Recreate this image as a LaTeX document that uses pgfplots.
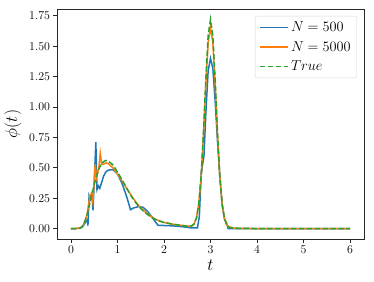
\documentclass[border=0pt]{standalone}
\usepackage{pgfplots}
\pgfplotsset{compat=1.18}
\definecolor{tabblue}{HTML}{1F77B4}
\definecolor{taborange}{HTML}{FF7F0E}
\definecolor{tabgreen}{HTML}{2CA02C}
\begin{document}
\begin{tikzpicture}
\begin{axis}[
  scale only axis, width=307bp, height=230bp,
  xmin=-0.3, xmax=6.3, ymin=-0.086, ymax=1.806,
  xtick={0,1,2,3,4,5,6},
  ytick={0,0.25,0.5,0.75,1,1.25,1.5,1.75},
  yticklabel style={/pgf/number format/.cd, fixed, fixed zerofill, precision=2},
  tick label style={font=\fontsize{13}{15}\selectfont},
  tick align=outside, tick pos=left,
  major tick length=3.5bp,
  axis line style={black!85, line width=0.8bp},
  every tick/.style={black!85, line width=0.8bp},
  xlabel={$t$}, ylabel={$\phi(t)$},
  label style={font=\fontsize{16}{18}\selectfont},
  xlabel style={yshift=1bp},
  ylabel style={yshift=1bp},
  legend style={at={(rel axis cs:0.977,0.97)}, anchor=north east,
    draw=black!15, rounded corners=2bp, font=\fontsize{13.5}{15}\selectfont,
    row sep=4bp, inner xsep=4bp, inner ysep=4bp},
  legend cell align=left,
  legend image code/.code={\draw[#1] (0cm,0cm) -- (1.0cm,0cm);},
  clip=false,
]
\addplot[tabblue, line width=1.5bp] coordinates {
(0,0) (0.1,0) (0.2,0.003) (0.25,0.015) (0.3,0.045) (0.35,0.07) (0.365,0.025) (0.39,0.27) (0.42,0.24) (0.45,0.28) (0.475,0.15) (0.5,0.38) (0.535,0.71) (0.56,0.32) (0.59,0.35) (0.62,0.33) (0.66,0.38) (0.7,0.43) (0.75,0.465) (0.8,0.48) (0.9,0.485) (1.0,0.45) (1.1,0.37) (1.2,0.26) (1.28,0.155) (1.35,0.17) (1.45,0.18) (1.55,0.175) (1.65,0.14) (1.75,0.09) (1.87,0.027) (2.0,0.025) (2.2,0.022) (2.4,0.015) (2.6,0.005) (2.72,0.005) (2.76,0.1) (2.8,0.45) (2.86,0.6) (2.9,0.95) (2.95,1.3) (3.0,1.40) (3.05,1.32) (3.1,1.05) (3.15,0.72) (3.2,0.43) (3.25,0.2) (3.3,0.08) (3.35,0.04) (3.38,0.0) (3.5,0) (6,0)
};
\addlegendentry{$N=500$}
\addplot[taborange, line width=1.5bp] coordinates {
(0,0) (0.1,0) (0.2,0.005) (0.25,0.02) (0.3,0.06) (0.35,0.12) (0.38,0.2) (0.41,0.27) (0.44,0.29) (0.47,0.22) (0.5,0.38) (0.52,0.53) (0.55,0.42) (0.58,0.47) (0.6,0.5) (0.63,0.62) (0.66,0.53) (0.7,0.53) (0.75,0.54) (0.8,0.535) (0.9,0.50) (1.0,0.45) (1.1,0.39) (1.2,0.33) (1.3,0.27) (1.4,0.215) (1.5,0.17) (1.6,0.135) (1.7,0.105) (1.8,0.08) (1.9,0.063) (2.0,0.05) (2.2,0.035) (2.4,0.025) (2.5,0.02) (2.6,0.022) (2.65,0.04) (2.7,0.09) (2.75,0.21) (2.8,0.43) (2.85,0.78) (2.9,1.19) (2.95,1.53) (3.0,1.655) (3.05,1.53) (3.1,1.19) (3.15,0.78) (3.2,0.43) (3.25,0.2) (3.3,0.082) (3.35,0.03) (3.4,0.012) (3.5,0.004) (3.6,0.001) (4,0) (6,0)
};
\addlegendentry{$N=5000$}
\addplot[tabgreen, line width=1.5bp, dash pattern=on 5.5bp off 2.4bp] coordinates {
(0,0) (0.1,0) (0.2,0.003) (0.25,0.02) (0.3,0.06) (0.35,0.12) (0.4,0.2) (0.45,0.28) (0.5,0.36) (0.55,0.43) (0.6,0.49) (0.65,0.53) (0.7,0.55) (0.75,0.56) (0.8,0.555) (0.9,0.525) (1.0,0.465) (1.1,0.40) (1.2,0.33) (1.3,0.265) (1.4,0.21) (1.5,0.165) (1.6,0.13) (1.7,0.1) (1.8,0.077) (1.9,0.062) (2.0,0.05) (2.2,0.035) (2.4,0.024) (2.5,0.02) (2.6,0.023) (2.65,0.039) (2.7,0.09) (2.75,0.21) (2.8,0.44) (2.85,0.80) (2.9,1.23) (2.95,1.59) (3.0,1.72) (3.05,1.585) (3.1,1.225) (3.15,0.795) (3.2,0.437) (3.25,0.203) (3.3,0.082) (3.35,0.03) (3.4,0.012) (3.5,0.004) (3.6,0.002) (3.8,0.001) (4,0) (5,0) (6,0)
};
\addlegendentry{$True$}
\path (rel axis cs:0,0) ++(-57bp,-43bp) coordinate (bbsw);
\path (rel axis cs:1,1) ++(10bp,9bp) coordinate (bbne);
\end{axis}
\useasboundingbox (bbsw) rectangle (bbne);
\end{tikzpicture}
\end{document}
